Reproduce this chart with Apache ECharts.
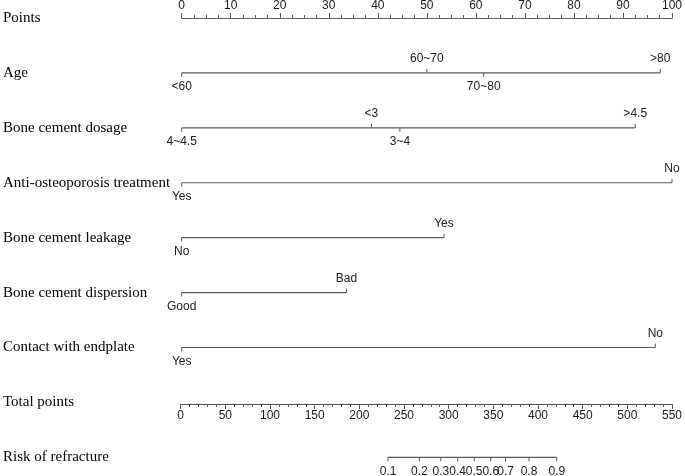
<!DOCTYPE html>
<html>
<head>
<meta charset="utf-8">
<script src="https://cdn.jsdelivr.net/npm/echarts@6/dist/echarts.min.js"></script>
<style>
  html, body { margin: 0; padding: 0; background: #fff; }
  #chart { width: 685px; height: 476px; }
</style>
</head>
<body>
<div id="chart"></div>
<script>
// row titles, top to bottom
const rowNames = ["Points", "Age", "Bone cement dosage", "Anti-osteoporosis treatment",
  "Bone cement leakage", "Bone cement dispersion", "Contact with endplate",
  "Total points", "Risk of refracture"]

// points for each level of each variable
const ageLevels = ["<60", "60~70", "70~80", ">80"]
const ageScores = [0, 50, 61.6, 97.6]
const dosageLevels = ["4~4.5", "<3", "3~4", ">4.5"]
const dosageScores = [0, 38.7, 44.5, 92.5]
const antiLevels = ["Yes", "No"]
const antiScores = [0, 100]
const leakLevels = ["No", "Yes"]
const leakScores = [0, 53.5]
const dispLevels = ["Good", "Bad"]
const dispScores = [0, 33.6]
const endLevels = ["Yes", "No"]
const endScores = [0, 96.6]

// risk scale, on total points
const riskLabels = ["0.1", "0.2", "0.3", "0.4", "0.5", "0.6", "0.7", "0.8", "0.9"]
const riskTotals = [231.4, 266.7, 290.7, 309.6, 328.1, 346.7, 363.3, 389.6, 420.7]

const lineColor = "#595959"
const textColor = "#1a1a1a"

const chart = echarts.init(document.getElementById("chart"))

function tickSeries(row, levels, scores, xAxisIndex, allBelow) {
  // labels alternate below / above in order of score
  const order = scores.map((s, i) => i).sort((a, b) => scores[a] - scores[b])
  const dirs = []
  order.forEach((idx, k) => { dirs[idx] = allBelow ? 1 : (k % 2 === 0 ? 1 : -1) })
  const data = scores.map((s, i) => [s, row, dirs[i]])
  return [
    {
      type: "line",
      xAxisIndex: xAxisIndex,
      yAxisIndex: 0,
      data: [[Math.min(...scores), row], [Math.max(...scores), row]],
      showSymbol: false,
      silent: true,
      lineStyle: { color: lineColor, width: 1.2 }
    },
    {
      type: "custom",
      xAxisIndex: xAxisIndex,
      yAxisIndex: 0,
      data: data,
      silent: true,
      renderItem: function (params, api) {
        const p = api.coord([api.value(0), api.value(1)])
        const dir = api.value(2)
        return {
          type: "group",
          children: [
            {
              type: "line",
              shape: { x1: p[0], y1: p[1], x2: p[0], y2: p[1] + dir * 4 },
              style: { stroke: lineColor, lineWidth: 1 }
            },
            {
              type: "text",
              x: p[0],
              y: p[1] + dir * 14,
              style: {
                text: levels[params.dataIndex],
                fill: textColor,
                font: "12px 'Liberation Sans', Arial, sans-serif",
                align: "center",
                verticalAlign: "middle"
              }
            }
          ]
        }
      }
    }
  ]
}

const series = [].concat(
  tickSeries("Age", ageLevels, ageScores, 0),
  tickSeries("Bone cement dosage", dosageLevels, dosageScores, 0),
  tickSeries("Anti-osteoporosis treatment", antiLevels, antiScores, 0),
  tickSeries("Bone cement leakage", leakLevels, leakScores, 0),
  tickSeries("Bone cement dispersion", dispLevels, dispScores, 0),
  tickSeries("Contact with endplate", endLevels, endScores, 0),
  tickSeries("Risk of refracture", riskLabels, riskTotals, 1, true)
)

const axisFont = { color: textColor, fontSize: 12, fontFamily: "'Liberation Sans', Arial, sans-serif" }

const option = {
  animation: false,
  backgroundColor: "#fff",
  grid: [
    { left: 180.7, right: 9.3, top: 17, bottom: 18.7 },
    { left: 180.7, right: 9.3, top: 300, bottom: 72 }
  ],
  xAxis: [
    {
      // Points
      gridIndex: 0,
      type: "value",
      position: "top",
      min: 0,
      max: 100,
      interval: 10,
      axisLine: { show: true, lineStyle: { color: lineColor, width: 1.2 } },
      axisTick: { show: true, length: 5, lineStyle: { color: lineColor } },
      minorTick: { show: true, splitNumber: 4, length: 3, lineStyle: { color: lineColor } },
      axisLabel: Object.assign({ margin: 6 }, axisFont),
      splitLine: { show: false }
    },
    {
      // hidden total points scale for the risk row
      gridIndex: 0,
      type: "value",
      position: "bottom",
      min: 0,
      max: 550,
      show: false
    },
    {
      // Total points
      gridIndex: 1,
      type: "value",
      position: "bottom",
      min: 0,
      max: 550,
      interval: 50,
      axisLine: { show: true, lineStyle: { color: lineColor, width: 1.2 } },
      axisTick: { show: true, length: 5, lineStyle: { color: lineColor } },
      minorTick: { show: true, splitNumber: 5, length: 3, lineStyle: { color: lineColor } },
      axisLabel: Object.assign({ margin: 6 }, axisFont),
      splitLine: { show: false }
    }
  ],
  yAxis: [
    {
      gridIndex: 0,
      type: "category",
      data: rowNames,
      inverse: true,
      boundaryGap: false,
      axisLine: { show: false },
      axisTick: { show: false },
      splitLine: { show: false },
      axisLabel: {
        align: "left",
        margin: 178.7,
        color: "#000",
        fontSize: 15,
        fontFamily: "'Liberation Serif', 'Times New Roman', serif"
      }
    },
    {
      gridIndex: 1,
      type: "value",
      show: false
    }
  ],
  series: series
}

chart.setOption(option)
</script>
</body>
</html>
